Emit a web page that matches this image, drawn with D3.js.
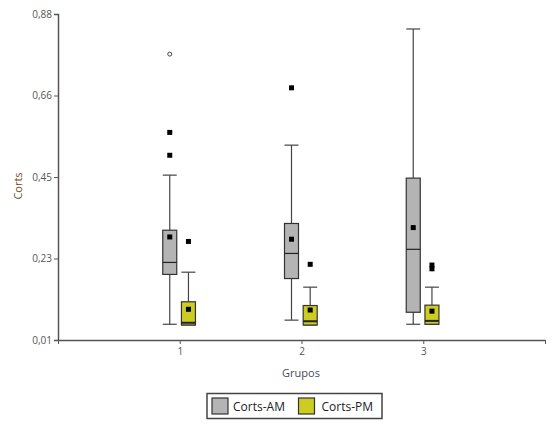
<!DOCTYPE html>
<html>
<head>
<meta charset="utf-8">
<script src="https://cdn.jsdelivr.net/npm/d3@7"></script>
<style>
  html, body { margin: 0; padding: 0; background: #fff; }
  svg { display: block; }
</style>
</head>
<body>
<svg id="chart" width="560" height="431"></svg>
<script>
// ---- data ----
const groups = ["1", "2", "3"];
const series = ["Corts-AM", "Corts-PM"];
const yTickValues = [0.01, 0.2275, 0.445, 0.6625, 0.88];
const yTickLabels = ["0,01", "0,23", "0,45", "0,66", "0,88"];

const amMin  = [0.052, 0.063, 0.052];
const amQ1   = [0.185, 0.174, 0.084];
const amMed  = [0.217, 0.241, 0.252];
const amQ3   = [0.303, 0.321, 0.442];
const amMax  = [0.450, 0.530, 0.840];
const amMean = [0.285, 0.279, 0.310];
const amOut  = [[0.564, 0.503], [0.683], []];
const amFar  = [[0.773], [], []];

const pmMin  = [0.050, 0.050, 0.052];
const pmQ1   = [0.050, 0.050, 0.052];
const pmMed  = [0.056, 0.060, 0.061];
const pmQ3   = [0.112, 0.102, 0.103];
const pmMax  = [0.191, 0.151, 0.151];
const pmMean = [0.092, 0.090, 0.087];
const pmOut  = [[0.273], [0.212], [0.200, 0.210]];
const pmFar  = [[], [], []];

// ---- layout ----
const svg = d3.select("#chart");
const plotLeft = 58, plotRight = 545, plotTop = 14, plotBottom = 340;
const x = d3.scaleLinear().domain([0, 4]).range([plotLeft, plotRight]);
const y = d3.scaleLinear().domain([0.01, 0.88]).range([plotBottom, plotTop]);
const boxW = 14;
const offsets = [-10, 8.7];
const fills = ["#b4b4b4", "#cccc22"];
const font = "'Open Sans', 'DejaVu Sans', sans-serif";

// y axis
const yAxis = d3.axisLeft(y).tickValues(yTickValues)
  .tickFormat((d, i) => yTickLabels[i]).tickSize(4).tickPadding(2);
const gy = svg.append("g").attr("transform", `translate(${plotLeft},0)`).call(yAxis);
gy.select(".domain").attr("stroke", "#555").attr("stroke-width", 1.5);
gy.selectAll(".tick line").attr("stroke", "#555");
gy.selectAll(".tick text").attr("fill", "#555").style("font-family", font).style("font-size", "10px");

// x axis
const xAxis = d3.axisBottom(x).tickValues([0, 1, 2, 3, 4])
  .tickFormat(d => (d >= 1 && d <= 3) ? groups[d - 1] : "").tickSize(4).tickSizeOuter(0).tickPadding(4);
const gx = svg.append("g").attr("transform", `translate(0,${plotBottom})`).call(xAxis);
gx.select(".domain").attr("stroke", "#555").attr("stroke-width", 1.5);
gx.selectAll(".tick line").attr("stroke", "#555");
gx.selectAll(".tick text").attr("fill", "#555").style("font-family", font).style("font-size", "10px");

// axis titles
svg.append("text").attr("x", 301).attr("y", 377).attr("text-anchor", "middle")
  .style("font-family", font).style("font-size", "11px").attr("fill", "#4a4a55").text("Grupos");
svg.append("text").attr("transform", "translate(22,186) rotate(-90)").attr("text-anchor", "middle")
  .style("font-family", font).style("font-size", "11px").attr("fill", "#6b5020").text("Corts");

// boxes
const stats = [
  {min: amMin, q1: amQ1, med: amMed, q3: amQ3, max: amMax, mean: amMean, out: amOut, far: amFar},
  {min: pmMin, q1: pmQ1, med: pmMed, q3: pmQ3, max: pmMax, mean: pmMean, out: pmOut, far: pmFar}
];
const plot = svg.append("g");
groups.forEach((g, gi) => {
  stats.forEach((s, si) => {
    const cx = x(gi + 1) + offsets[si];
    const gg = plot.append("g");
    gg.append("line").attr("x1", cx).attr("x2", cx).attr("y1", y(s.max[gi])).attr("y2", y(s.q3[gi]))
      .attr("stroke", "#444").attr("stroke-width", 1.2);
    gg.append("line").attr("x1", cx).attr("x2", cx).attr("y1", y(s.q1[gi])).attr("y2", y(s.min[gi]))
      .attr("stroke", "#444").attr("stroke-width", 1.2);
    [s.max[gi], s.min[gi]].forEach(v => {
      gg.append("line").attr("x1", cx - boxW / 2).attr("x2", cx + boxW / 2).attr("y1", y(v)).attr("y2", y(v))
        .attr("stroke", "#444").attr("stroke-width", 1.2);
    });
    gg.append("rect").attr("x", cx - boxW / 2).attr("width", boxW)
      .attr("y", y(s.q3[gi])).attr("height", y(s.q1[gi]) - y(s.q3[gi]))
      .attr("fill", fills[si]).attr("stroke", "#333").attr("stroke-width", 1.2);
    gg.append("line").attr("x1", cx - boxW / 2).attr("x2", cx + boxW / 2)
      .attr("y1", y(s.med[gi])).attr("y2", y(s.med[gi]))
      .attr("stroke", "#222").attr("stroke-width", si === 1 ? 2 : 1.2);
    gg.append("rect").attr("x", cx - 2.5).attr("y", y(s.mean[gi]) - 2.5).attr("width", 5).attr("height", 5).attr("fill", "#000");
    s.out[gi].forEach(v => {
      gg.append("rect").attr("x", cx - 2.5).attr("y", y(v) - 2.5).attr("width", 5).attr("height", 5).attr("fill", "#000");
    });
    s.far[gi].forEach(v => {
      gg.append("circle").attr("cx", cx).attr("cy", y(v)).attr("r", 2)
        .attr("fill", "#fff").attr("stroke", "#444").attr("stroke-width", 1);
    });
  });
});

// legend
const lg = svg.append("g");
lg.append("rect").attr("x", 207).attr("y", 393.5).attr("width", 175).attr("height", 25)
  .attr("fill", "#fff").attr("stroke", "#444").attr("stroke-width", 1.5);
const legX = [212, 298.5];
series.forEach((name, i) => {
  lg.append("rect").attr("x", legX[i]).attr("y", 398).attr("width", 16).attr("height", 16)
    .attr("fill", fills[i]).attr("stroke", "#333").attr("stroke-width", 1.2);
  lg.append("text").attr("x", legX[i] + 21 + (i === 1 ? 2 : 0)).attr("y", 410.5)
    .style("font-family", font).style("font-size", "12px").attr("fill", "#222").text(name);
});
</script>
</body>
</html>
